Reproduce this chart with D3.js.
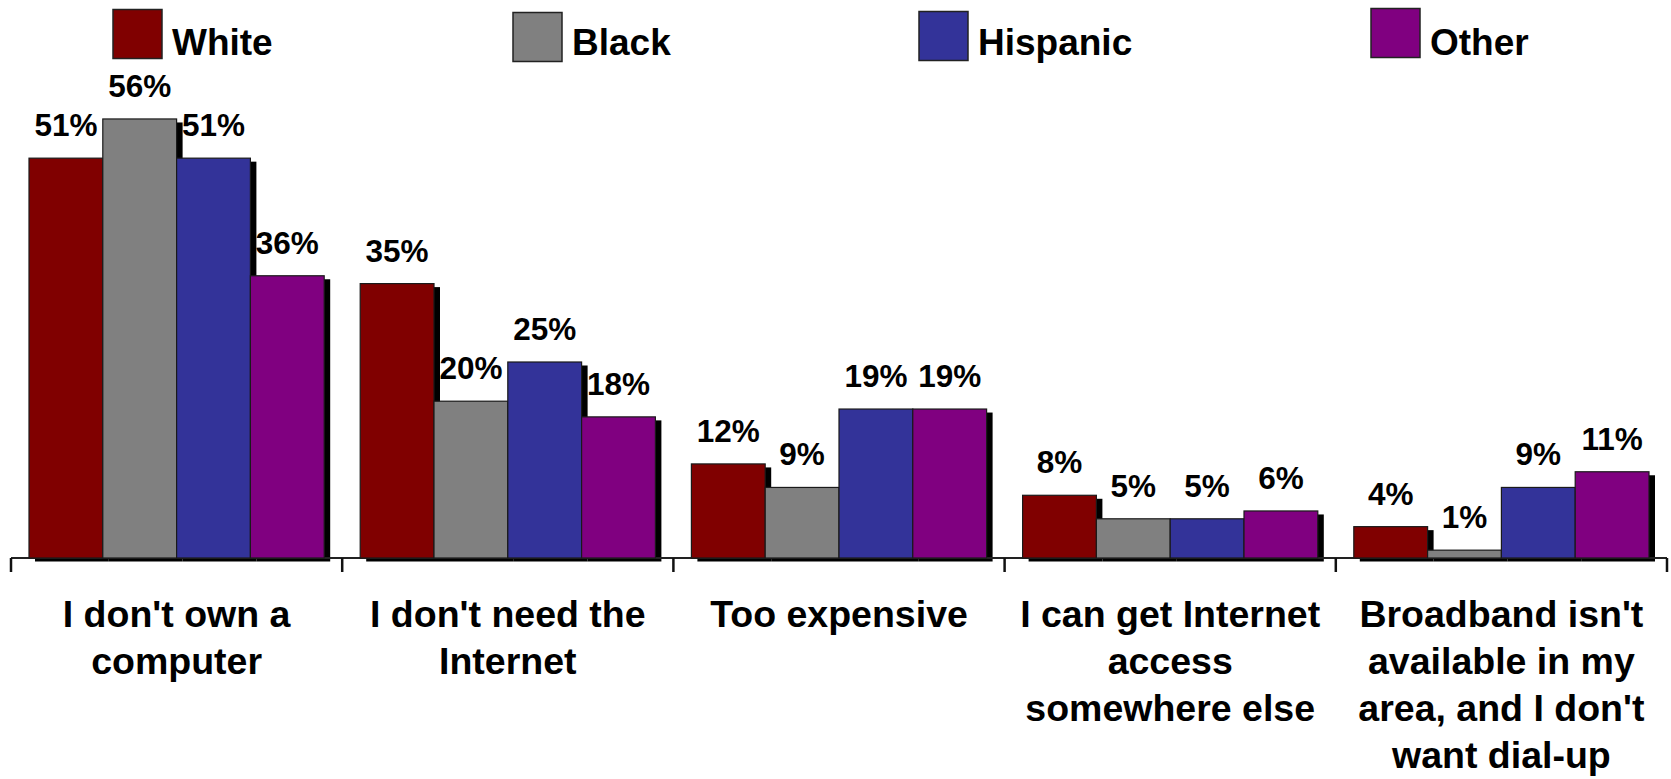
<!DOCTYPE html>
<html>
<head>
<meta charset="utf-8">
<script src="https://cdn.jsdelivr.net/npm/d3@7"></script>
<style>
  html, body { margin: 0; padding: 0; background: #fff; }
  svg { display: block; }
  text { font-family: "Liberation Sans", Arial, Helvetica, sans-serif; font-weight: bold; fill: #000; }
</style>
</head>
<body>
<svg id="chart" width="1671" height="779"></svg>
<script>
// ---- data ----
const categories = [
  ["I don't own a", "computer"],
  ["I don't need the", "Internet"],
  ["Too expensive"],
  ["I can get Internet", "access", "somewhere else"],
  ["Broadband isn't", "available in my", "area, and I don't", "want dial-up"]
];
const seriesNames = ["White", "Black", "Hispanic", "Other"];
const white    = [51, 35, 12, 8, 4];
const black    = [56, 20, 9, 5, 1];
const hispanic = [51, 25, 19, 5, 9];
const other    = [36, 18, 19, 6, 11];
const seriesValues = [white, black, hispanic, other];
const seriesColors = ["#800000", "#808080", "#333399", "#800080"];

// ---- layout ----
const W = 1671, H = 779;
const left = 11, right = 1667, baseY = 558;
const yMax = 60, pxPerUnit = 7.84;
const groupPad = 18;
const shadowDx = 6, shadowDy = 3.5;

const svg = d3.select("#chart");

const catIdx = categories.map((d, i) => i);
const x0 = d3.scaleBand().domain(catIdx).range([left, right]).paddingInner(0).paddingOuter(0);
const x1 = d3.scaleBand().domain(seriesNames).range([groupPad, x0.bandwidth() - groupPad]).padding(0);
const y = d3.scaleLinear().domain([0, yMax]).range([baseY, baseY - yMax * pxPerUnit]);

const rows = [];
catIdx.forEach(ci => {
  seriesNames.forEach((s, si) => {
    rows.push({ ci, s, si, v: seriesValues[si][ci] });
  });
});

// shadows (behind bars)
svg.append("g").selectAll("rect").data(rows).join("rect")
  .attr("x", d => x0(d.ci) + x1(d.s) + shadowDx)
  .attr("y", d => y(d.v) + shadowDy)
  .attr("width", x1.bandwidth())
  .attr("height", d => baseY - y(d.v))
  .attr("fill", "#000");

// axis line
svg.append("line")
  .attr("x1", left).attr("x2", right)
  .attr("y1", baseY).attr("y2", baseY)
  .attr("stroke", "#222").attr("stroke-width", 2);

// bars
svg.append("g").selectAll("rect").data(rows).join("rect")
  .attr("x", d => x0(d.ci) + x1(d.s))
  .attr("y", d => y(d.v))
  .attr("width", x1.bandwidth())
  .attr("height", d => baseY - y(d.v))
  .attr("fill", d => seriesColors[d.si])
  .attr("stroke", "#1a1a1a")
  .attr("stroke-width", 1.2);

// tick marks at category boundaries
const boundaries = catIdx.map(i => x0(i)).concat([x0(catIdx.length - 1) + x0.bandwidth()]);
svg.append("g").selectAll("line").data(boundaries).join("line")
  .attr("x1", d => d).attr("x2", d => d)
  .attr("y1", baseY).attr("y2", baseY + 14)
  .attr("stroke", "#111").attr("stroke-width", 2.5);

// value labels
svg.append("g").selectAll("text").data(rows).join("text")
  .attr("x", d => x0(d.ci) + x1(d.s) + x1.bandwidth() / 2)
  .attr("y", d => y(d.v) - 22)
  .attr("text-anchor", "middle")
  .style("font-size", "31.5px")
  .text(d => d.v + "%");

// category labels
const catG = svg.append("g");
categories.forEach((lines, ci) => {
  const t = catG.append("text")
    .attr("x", x0(ci) + x0.bandwidth() / 2)
    .attr("y", 627)
    .attr("text-anchor", "middle")
    .style("font-size", "37.5px");
  lines.forEach((ln, li) => {
    t.append("tspan")
      .attr("x", x0(ci) + x0.bandwidth() / 2)
      .attr("y", 627 + li * 47)
      .text(ln);
  });
});

// legend
const legendX = [113, 513, 919, 1371];
const legendY = [9.5, 12.5, 11.5, 8.5];
const lg = svg.append("g");
seriesNames.forEach((s, i) => {
  lg.append("rect")
    .attr("x", legendX[i]).attr("y", legendY[i])
    .attr("width", 49).attr("height", 49)
    .attr("fill", seriesColors[i])
    .attr("stroke", "#222").attr("stroke-width", 1.5);
  lg.append("text")
    .attr("x", legendX[i] + 59)
    .attr("y", 55)
    .style("font-size", "37px")
    .text(s);
});
</script>
</body>
</html>
